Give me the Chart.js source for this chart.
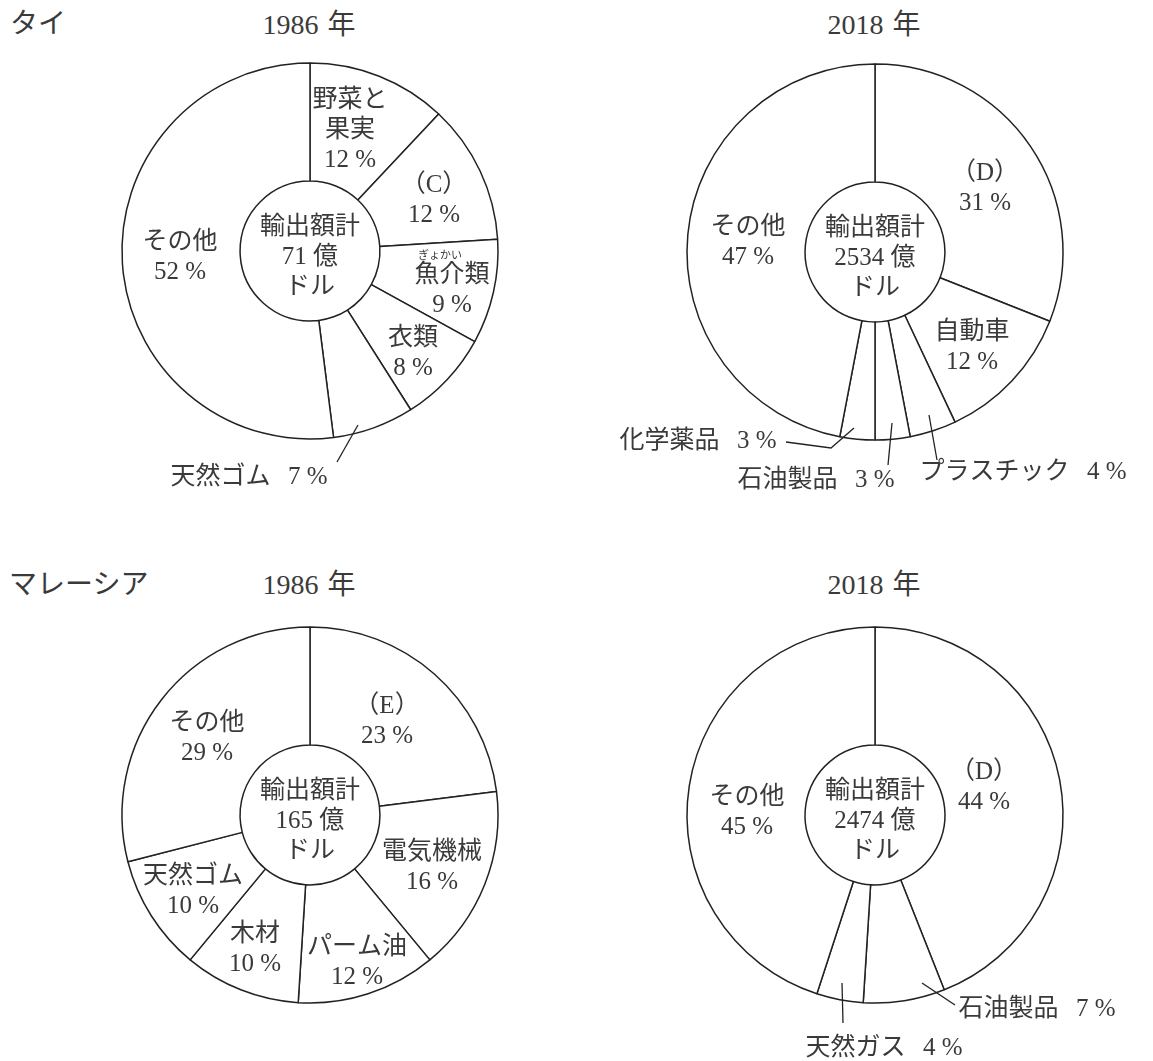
<!DOCTYPE html>
<html lang="ja">
<head>
<meta charset="utf-8">
<script src="https://cdn.jsdelivr.net/npm/chart.js@4.4.1/dist/chart.umd.min.js"></script>
<style>
  body { margin: 0; width: 1153px; height: 1061px; overflow: hidden; background: #fff; position: relative; }
  canvas { position: absolute; }
  .t { position: absolute; font: 28px "Liberation Serif", "Noto Sans CJK JP", serif; color: #3a3a3a; white-space: nowrap; line-height: 28px; word-spacing: 2px; }
  .c { transform: translateX(-50%); }
</style>
</head>
<body>
<div class="t" style="left:10px;top:10px">タイ</div>
<div class="t c" style="left:309px;top:11px">1986 年</div>
<div class="t c" style="left:874px;top:11px">2018 年</div>
<div class="t" style="left:9px;top:571px">マレーシア</div>
<div class="t c" style="left:309px;top:571px">1986 年</div>
<div class="t c" style="left:874px;top:571px">2018 年</div>

<canvas id="thai1986" width="576" height="530" style="left:0;top:0"></canvas>
<canvas id="thai2018" width="577" height="530" style="left:576px;top:0"></canvas>
<canvas id="malay1986" width="576" height="531" style="left:0;top:530px"></canvas>
<canvas id="malay2018" width="577" height="531" style="left:576px;top:530px"></canvas>

<script>
// ----------- DATA ------------
const thai1986_labels = ['野菜と\n果実', '（C）', '魚介類', '衣類', '天然ゴム', 'その他'];
const thai1986_values = [12, 12, 9, 8, 7, 52];

const thai2018_labels = ['（D）', '自動車', 'プラスチック', '石油製品', '化学薬品', 'その他'];
const thai2018_values = [31, 12, 4, 3, 3, 47];

const malay1986_labels = ['（E）', '電気機械', 'パーム油', '木材', '天然ゴム', 'その他'];
const malay1986_values = [23, 16, 12, 10, 10, 29];

const malay2018_labels = ['（D）', '石油製品', '天然ガス', 'その他'];
const malay2018_values = [44, 7, 4, 45];

const totals = [71, 2534, 165, 2474];   // 輸出額計（億ドル）

// ----------- LABEL PLACEMENT ------------
// dx,dy = offset of first text line from the doughnut centre
// out = one-line label outside the ring, lead = leader line points (offsets)
const thai1986_place = [
  {dx: 40, dy: -151},
  {dx: 124, dy: -66},
  {dx: 142, dy: 24, ruby: 'ぎょかい'},
  {dx: 103, dy: 87},
  {dx: -61, dy: 226, out: true, lead: [[48, 174], [27, 211]]},
  {dx: -130, dy: -9}
];
const thai2018_place = [
  {dx: 110, dy: -79},
  {dx: 97, dy: 80},
  {dx: 148, dy: 220, out: true, lead: [[54, 163], [62, 208]]},
  {dx: -59, dy: 228, out: true, lead: [[17, 171], [13, 213]]},
  {dx: -177, dy: 189, out: true, lead: [[-21, 176], [-44, 196], [-89, 190]]},
  {dx: -127, dy: -25}
];
const malay1986_place = [
  {dx: 77, dy: -109},
  {dx: 122, dy: 37},
  {dx: 47, dy: 132},
  {dx: -55, dy: 119},
  {dx: -117, dy: 61},
  {dx: -103, dy: -92}
];
const malay2018_place = [
  {dx: 109, dy: -43},
  {dx: 162, dy: 194, out: true, lead: [[47, 168], [80, 190]]},
  {dx: 9, dy: 233, out: true, lead: [[-33, 168], [-32, 208]]},
  {dx: -128, dy: -18}
];

const FONT = '25px "Liberation Serif", "Noto Sans CJK JP", serif';
const RUBY_FONT = '11px "Noto Sans CJK JP", sans-serif';
const LINE_H = 30;

// ----------- PLUGIN : text inside / around the ring ------------
const labelPlugin = {
  id: 'sliceLabels',
  afterDraw(chart, args, opts) {
    const ctx = chart.ctx;
    const arc0 = chart.getDatasetMeta(0).data[0];
    const cx = arc0.x, cy = arc0.y;
    const labels = chart.data.labels;
    const values = chart.data.datasets[0].data;

    ctx.save();
    ctx.fillStyle = '#3a3a3a';
    ctx.strokeStyle = '#222';
    ctx.lineWidth = 1.3;
    ctx.textAlign = 'center';
    ctx.textBaseline = 'middle';

    opts.place.forEach((p, i) => {
      ctx.font = FONT;
      if (p.out) {
        ctx.fillText(labels[i] + '\u2002\u2009' + values[i] + ' %', cx + p.dx, cy + p.dy);
        ctx.beginPath();
        p.lead.forEach((pt, k) => {
          if (k === 0) ctx.moveTo(cx + pt[0], cy + pt[1]);
          else ctx.lineTo(cx + pt[0], cy + pt[1]);
        });
        ctx.stroke();
      } else {
        const lines = labels[i].split('\n').concat([values[i] + ' %']);
        lines.forEach((s, k) => ctx.fillText(s, cx + p.dx, cy + p.dy + k * LINE_H));
        if (p.ruby) {
          ctx.font = RUBY_FONT;
          ctx.fillText(p.ruby, cx + p.dx - 12, cy + p.dy - 20);
        }
      }
    });

    // centre text
    ctx.font = FONT;
    const centre = ['輸出額計', opts.total + ' 億', 'ドル'];
    centre.forEach((s, k) => ctx.fillText(s, cx, cy - 24 + k * LINE_H));
    ctx.restore();
  }
};

// ----------- CHARTS ------------
function make_chart(id, labels, values, place, total, pad) {
  return new Chart(document.getElementById(id), {
    type: 'doughnut',
    data: {
      labels: labels,
      datasets: [{
        data: values,
        backgroundColor: '#fff',
        borderColor: '#222',
        borderWidth: 1.5,
        hoverOffset: 0
      }]
    },
    options: {
      responsive: false,
      animation: false,
      radius: 188,
      cutout: '37.2%',
      layout: {padding: pad},
      events: [],
      plugins: {
        legend: {display: false},
        tooltip: {enabled: false},
        sliceLabels: {place: place, total: total}
      }
    },
    plugins: [labelPlugin]
  });
}

function main() {
  // padding puts the 400px chart area round the wanted centre
  make_chart('thai1986', thai1986_labels, thai1986_values, thai1986_place, totals[0],
    {left: 110, right: 66, top: 51, bottom: 79});
  make_chart('thai2018', thai2018_labels, thai2018_values, thai2018_place, totals[1],
    {left: 99, right: 78, top: 52, bottom: 78});
  make_chart('malay1986', malay1986_labels, malay1986_values, malay1986_place, totals[2],
    {left: 110, right: 66, top: 85, bottom: 46});
  make_chart('malay2018', malay2018_labels, malay2018_values, malay2018_place, totals[3],
    {left: 99, right: 78, top: 85, bottom: 46});
}

document.addEventListener('DOMContentLoaded', function() {
  main();
});
</script>
</body>
</html>
